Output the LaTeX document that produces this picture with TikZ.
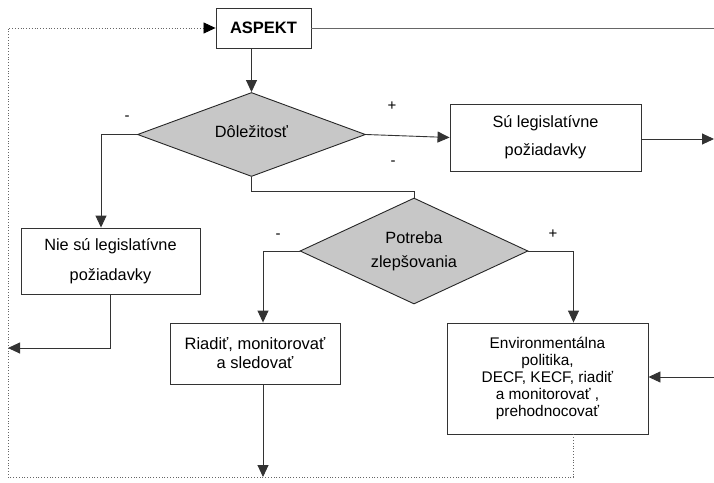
\documentclass[tikz,border=0pt]{standalone}
\usepackage{fontspec}
\setmainfont{Liberation Sans}
\usetikzlibrary{shapes.geometric,arrows.meta,calc}
\begin{document}
\begin{tikzpicture}[x=1pt,y=-1pt,
  box/.style={draw=black!80,line width=0.9pt,rectangle,inner sep=0pt,align=center,font=\fontsize{16.3}{29}\selectfont},
  dia/.style={draw=black!85,line width=0.9pt,diamond,fill=black!22,inner sep=0pt,align=center,font=\fontsize{16.3}{24}\selectfont},
  conn/.style={draw=black!80,line width=0.9pt},
  arr/.style={conn,-{Triangle[length=12pt,width=11pt]}},
  loopline/.style={draw=black!60,line width=0.8pt,dotted},
  sign/.style={font=\fontsize{15}{15}\selectfont,inner sep=0pt}]
\useasboundingbox (0,0) rectangle (714,482);
% nodes
\node[box,minimum width=95pt,minimum height=40pt,font=\fontsize{16.5}{18}\selectfont\bfseries] (aspekt) at (263.5,28) {ASPEKT};
\node[dia,aspect=2.7,minimum width=228pt,minimum height=84pt] (dol) at (251.5,134.5) {\raisebox{5pt}{Dôležitosť}};
\node[box,minimum width=191pt,minimum height=67pt,font=\fontsize{16.3}{28}\selectfont] (su) at (545.5,137.5) {Sú legislatívne\\požiadavky};
\node[box,minimum width=179pt,minimum height=66pt,font=\fontsize{16.3}{30}\selectfont] (nie) at (110.5,261) {Nie sú legislatívne\\požiadavky};
\node[dia,aspect=2.15,minimum width=228pt,minimum height=106pt] (pot) at (414,251) {Potreba\\zlepšovania};
\node[box,minimum width=170pt,minimum height=61pt,font=\fontsize{16.5}{19}\selectfont] (riad) at (255,353.5) {Riadiť, monitorovať\\a sledovať};
\node[box,minimum width=201pt,minimum height=111pt,font=\fontsize{15.4}{17}\selectfont] (env) at (547.5,378.5) {Environmentálna\\politika,\\DECF, KECF, riadiť\\a monitorovať ,\\prehodnocovať};
% free ends
\coordinate (bl) at (8,477);
\coordinate (dx) at (573.5,477);
\coordinate (tr) at (714,28);
\coordinate (sr) at (714,139);
\coordinate (er) at (714,377);
\coordinate (nl) at (8,348);
% signs
\node[sign] (s1) at (127,118) {-};
\node[sign] (s2) at (392,106) {+};
\node[sign] (s3) at (393,163) {-};
\node[sign] (s4) at (278,236) {-};
\node[sign] (s5) at (553,234) {+};
% connectors
\draw[arr] (dol.north |- aspekt.south) -- (dol.north);
\draw[conn,draw=black!60] (aspekt.east) -- (tr);
\draw[loopline,-{Triangle[length=12pt,width=11pt,color=black,fill=black]}] (dx |- env.south) -- (dx) -- (bl) |- (aspekt.west);
\draw[arr] (dol.east) -- (su.west);
\draw[arr] (su.east |- sr) -- (sr);
\draw[arr] (dol.west) -| ([xshift=-9.5pt]nie.north);
\draw[conn] (dol.south) -- ++(0,14) -| (pot.north);
\draw[arr] (pot.west) -| ([xshift=8pt]riad.north);
\draw[arr] ([xshift=8pt]riad.south) -- ([xshift=8pt]riad.south |- bl);
\draw[arr] (pot.east) -| (dx |- env.north);
\draw[arr] (er) -- (env.east |- er);
\draw[arr] (nie.south) |- (nl);
\end{tikzpicture}
\end{document}
